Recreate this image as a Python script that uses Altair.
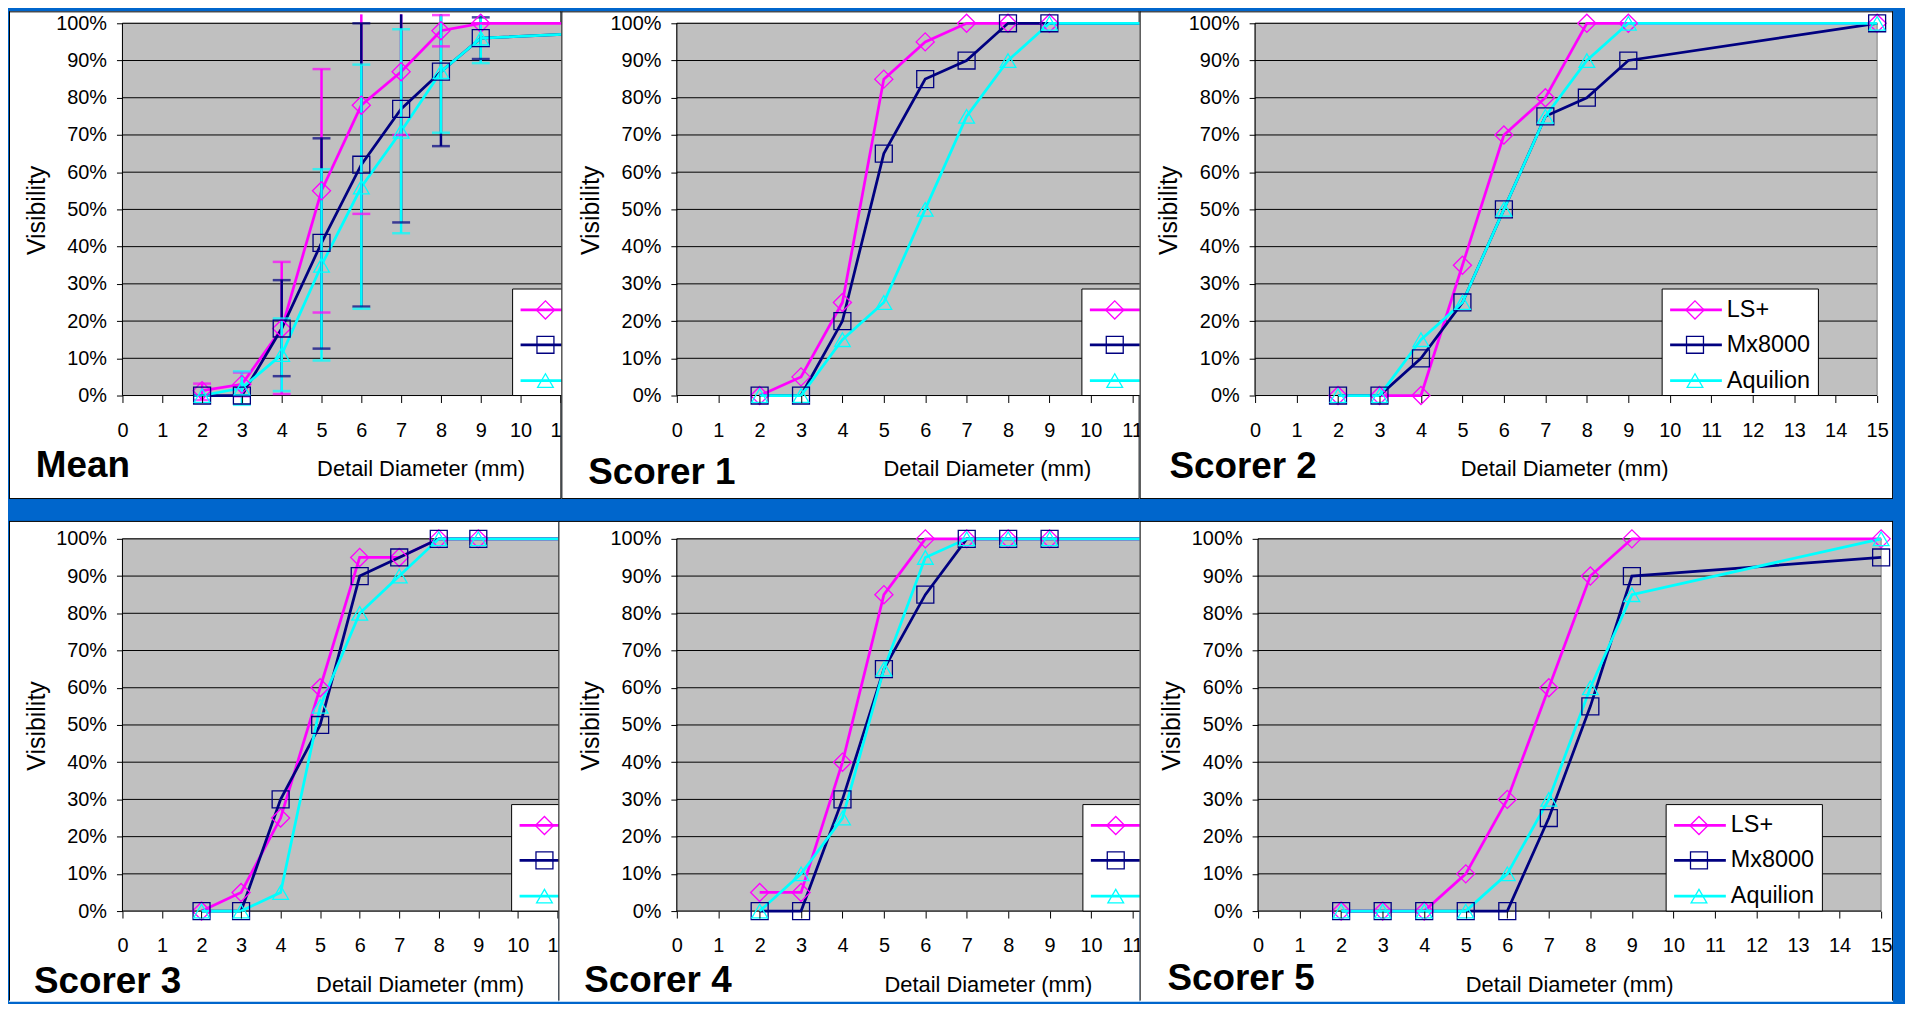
import altair as alt
import pandas as pd

FONT = "Liberation Sans"
SERIES = ["LS+", "Mx8000", "Aquilion"]
COLORS = ["#FF00FF", "#000080", "#00FFFF"]
SHAPES = ["diamond", "square", "triangle-up"]
SIZES = [330, 250, 260]
DIAM = [2, 3, 4, 5, 6, 7, 8, 9, 15]
X_TICKS = list(range(16))
Y_TICKS = [i / 10 for i in range(11)]
PANEL_NAMES = ["Mean", "Scorer 1", "Scorer 2", "Scorer 3", "Scorer 4", "Scorer 5"]
X_TITLE = "Detail Diameter (mm)"
Y_TITLE = "Visibility"

# visibility values (fraction) per series, at DIAM
MEAN_LS = [0.013, 0.03, 0.18, 0.55, 0.78, 0.87, 0.98, 1.00, 1.00]
MEAN_MX = [0.00, 0.00, 0.18, 0.41, 0.62, 0.77, 0.87, 0.96, 0.99]
MEAN_AQ = [0.00, 0.02, 0.11, 0.35, 0.56, 0.71, 0.87, 0.96, 0.99]

S1_LS = [0.00, 0.05, 0.25, 0.85, 0.95, 1.00, 1.00, 1.00, 1.00]
S1_MX = [0.00, 0.00, 0.20, 0.65, 0.85, 0.90, 1.00, 1.00, 1.00]
S1_AQ = [0.00, 0.00, 0.15, 0.25, 0.50, 0.75, 0.90, 1.00, 1.00]

S2_LS = [0.00, 0.00, 0.00, 0.35, 0.70, 0.80, 1.00, 1.00, 1.00]
S2_MX = [0.00, 0.00, 0.10, 0.25, 0.50, 0.75, 0.80, 0.90, 1.00]
S2_AQ = [0.00, 0.00, 0.15, 0.25, 0.50, 0.75, 0.90, 1.00, 1.00]

S3_LS = [0.00, 0.05, 0.25, 0.60, 0.95, 0.95, 1.00, 1.00, 1.00]
S3_MX = [0.00, 0.00, 0.30, 0.50, 0.90, 0.95, 1.00, 1.00, 1.00]
S3_AQ = [0.00, 0.00, 0.05, 0.55, 0.80, 0.90, 1.00, 1.00, 1.00]

S4_LS = [0.05, 0.05, 0.40, 0.85, 1.00, 1.00, 1.00, 1.00, 1.00]
S4_MX = [0.00, 0.00, 0.30, 0.65, 0.85, 1.00, 1.00, 1.00, 1.00]
S4_AQ = [0.00, 0.10, 0.25, 0.65, 0.95, 1.00, 1.00, 1.00, 1.00]

S5_LS = [0.00, 0.00, 0.00, 0.10, 0.30, 0.60, 0.90, 1.00, 1.00]
S5_MX = [0.00, 0.00, 0.00, 0.00, 0.00, 0.25, 0.55, 0.90, 0.95]
S5_AQ = [0.00, 0.00, 0.00, 0.00, 0.10, 0.30, 0.60, 0.85, 1.00]

# error bars of the Mean panel (at diameters 2..9)
ERR_D = [2, 3, 4, 5, 6, 7, 8, 9]
ERR_LO_LS = [-0.012, -0.002, 0.004, 0.223, 0.488, 0.70, 0.938, 1.00]
ERR_HI_LS = [0.032, 0.062, 0.359, 0.877, 1.07, 1.04, 1.022, 1.00]
ERR_LO_MX = [0.00, 0.00, 0.052, 0.126, 0.239, 0.465, 0.67, 0.904]
ERR_HI_MX = [0.00, 0.00, 0.31, 0.691, 1.00, 1.075, 1.07, 1.016]
ERR_LO_AQ = [0.00, -0.025, 0.012, 0.094, 0.233, 0.436, 0.706, 0.893]
ERR_HI_AQ = [0.00, 0.065, 0.207, 0.608, 0.889, 0.984, 1.034, 1.027]
ERR_TOP = 1.024  # visible top of the picture

H = 374
LEG_Y = [288, 323, 359]


def make_panel(name, vals, xmax, width, rect, lgx, xtx, lbx, lby,
               err=None, legend_text=True, borders=("l", "t", "r", "b")):
    rl, rr, rt, rb = rect
    rows = []
    for s, v in zip(SERIES, vals):
        for d, y in zip(DIAM, v):
            rows.append({"series": s, "d": d, "v": y})
    df = pd.DataFrame(rows)

    xs = alt.Scale(domain=[0, xmax], nice=False, zero=False)
    ys = alt.Scale(domain=[0, 1], nice=False)
    axx = alt.Axis(values=X_TICKS, format="d", title=None, grid=False, domain=False,
                   tickSize=7, tickColor="black", tickWidth=1,
                   labelFontSize=20, labelFont=FONT, labelColor="black",
                   labelPadding=18, labelFlush=False, labelOverlap=False, zindex=1)
    axy = alt.Axis(values=Y_TICKS, format=".0%", title=None, grid=False, domain=False,
                   tickSize=6, tickColor="black", tickWidth=1,
                   labelFontSize=20, labelFont=FONT, labelColor="black",
                   labelPadding=10, labelFlush=False, labelOverlap=False, zindex=1)

    def X(f):
        return alt.X(f, type="quantitative", scale=xs, axis=axx)

    def Y(f):
        return alt.Y(f, type="quantitative", scale=ys, axis=axy)

    color = alt.Color("series:N", scale=alt.Scale(domain=SERIES, range=COLORS), legend=None)
    shape = alt.Shape("series:N", scale=alt.Scale(domain=SERIES, range=SHAPES), legend=None)
    size = alt.Size("series:N", scale=alt.Scale(domain=SERIES, range=SIZES), legend=None)

    one = pd.DataFrame({"a": [0]})
    layers = []
    # white panel
    layers.append(alt.Chart(one).mark_rect(fill="white", strokeWidth=0).encode(
        x=alt.value(rl), x2=alt.value(width + rr), y=alt.value(rt), y2=alt.value(H + rb)))
    # panel borders
    edge = dict(
        l=dict(x=alt.value(rl + 0.5), y=alt.value(rt), y2=alt.value(H + rb - 1)),
        r=dict(x=alt.value(width + rr - 0.5), y=alt.value(rt), y2=alt.value(H + rb - 1)),
        t=dict(x=alt.value(rl), x2=alt.value(width + rr), y=alt.value(rt + 0.5)),
        b=dict(x=alt.value(rl), x2=alt.value(width + rr), y=alt.value(H + rb - 0.5)),
    )
    for side in borders:
        layers.append(alt.Chart(one).mark_rule(color="black", strokeWidth=1).encode(**edge[side]))
    # gray plot area
    plot_df = pd.DataFrame({"x0": [0], "x1": [15], "y0": [0.0], "y1": [1.0]})
    layers.append(alt.Chart(plot_df).mark_rect(fill="#C0C0C0", stroke="#808080", strokeWidth=1).encode(
        x=X("x0"), x2="x1", y=Y("y0"), y2="y1"))
    # grid lines
    grid_df = pd.DataFrame({"g": Y_TICKS[1:], "x0": 0, "x1": 15})
    layers.append(alt.Chart(grid_df).mark_rule(color="black", strokeWidth=1).encode(
        x=X("x0"), x2="x1", y=Y("g")))
    # axis lines
    axl_df = pd.DataFrame({"x0": [0, 0], "x1": [15, 0], "y0": [0.0, 0.0], "y1": [0.0, 1.0]})
    layers.append(alt.Chart(axl_df).mark_rule(color="black", strokeWidth=1).encode(
        x=X("x0"), x2="x1", y=Y("y0"), y2="y1"))
    # lines
    layers.append(alt.Chart(df).mark_line(strokeWidth=2.75).encode(
        x=X("d"), y=Y("v"), color=color))
    # error bars
    if err is not None:
        erows = []
        for s, lo, hi in zip(SERIES, err[0], err[1]):
            for d, a, b in zip(ERR_D, lo, hi):
                erows.append({"series": s, "d": d, "lo": a, "hi": b})
        edf = pd.DataFrame(erows)
        base = alt.Chart(edf).transform_calculate(hv=f"min(datum.hi, {ERR_TOP})")
        layers.append(base.mark_rule(strokeWidth=2.5).encode(
            x=X("d"), y=Y("lo"), y2="hv:Q", color=color))
        layers.append(base.mark_tick(orient="horizontal", size=18, thickness=2.5).encode(
            x=X("d"), y=Y("lo"), color=color))
        layers.append(base.transform_filter(f"datum.hi <= {ERR_TOP}").mark_tick(
            orient="horizontal", size=18, thickness=2.5).encode(
            x=X("d"), y=Y("hi"), color=color))
    # points
    layers.append(alt.Chart(df).mark_point(filled=False, strokeWidth=1.3, opacity=1).encode(
        x=X("d"), y=Y("v"), color=color, shape=shape, size=size))
    # legend
    layers.append(alt.Chart(one).mark_rect(fill="white", stroke="black", strokeWidth=1).encode(
        x=alt.value(lgx), x2=alt.value(lgx + 157), y=alt.value(267), y2=alt.value(374)))
    for i, s in enumerate(SERIES):
        sdf = pd.DataFrame({"series": [s]})
        layers.append(alt.Chart(sdf).mark_rule(strokeWidth=2.75).encode(
            x=alt.value(lgx + 8), x2=alt.value(lgx + 60), y=alt.value(LEG_Y[i]), color=color))
        layers.append(alt.Chart(sdf).mark_point(filled=False, strokeWidth=1.3, opacity=1).encode(
            x=alt.value(lgx + 33), y=alt.value(LEG_Y[i]), color=color, shape=shape, size=size))
        if legend_text:
            layers.append(alt.Chart(sdf).mark_text(align="left", baseline="middle", fontSize=23.5,
                                                  font=FONT, color="black").encode(
                x=alt.value(lgx + 65), y=alt.value(LEG_Y[i]), text="series:N"))
    # titles
    tdf = pd.DataFrame({"t": [name], "xt": [X_TITLE], "yt": [Y_TITLE]})
    layers.append(alt.Chart(tdf).mark_text(align="center", baseline="middle", fontSize=22,
                                          font=FONT, color="black").encode(
        x=alt.value(xtx), y=alt.value(448), text="xt:N"))
    layers.append(alt.Chart(tdf).mark_text(align="center", baseline="middle", fontSize=25,
                                          font=FONT, color="black", angle=270).encode(
        x=alt.value(-86), y=alt.value(188), text="yt:N"))
    layers.append(alt.Chart(tdf).mark_text(align="left", baseline="alphabetic", fontSize=37,
                                          font=FONT, fontWeight="bold", color="black").encode(
        x=alt.value(lbx), y=alt.value(lby), text="t:N"))
    return alt.layer(*layers).properties(width=width, height=H)


mean = make_panel(PANEL_NAMES[0], [MEAN_LS, MEAN_MX, MEAN_AQ], 11.025, 441, (-114, 0, -12, 104),
                  392, 300, -87, 456,
                  err=([ERR_LO_LS, ERR_LO_MX, ERR_LO_AQ], [ERR_HI_LS, ERR_HI_MX, ERR_HI_AQ]),
                  legend_text=False)
s1 = make_panel(PANEL_NAMES[1], [S1_LS, S1_MX, S1_AQ], 11.18, 465, (-116, 0, -12, 104),
                407, 312, -89, 463, legend_text=False)
s2 = make_panel(PANEL_NAMES[2], [S2_LS, S2_MX, S2_AQ], 15, 625, (-116, 16, -12, 104),
                409, 311, -86, 457)
s3 = make_panel(PANEL_NAMES[3], [S3_LS, S3_MX, S3_AQ], 11.0, 437, (-114, 1, -18, 91),
                391, 299, -89, 456, legend_text=False, borders=("l", "t"))
s4 = make_panel(PANEL_NAMES[4], [S4_LS, S4_MX, S4_AQ], 11.15, 464, (-119, 1, -18, 91),
                408, 313, -93, 455, legend_text=False, borders=("l", "t"))
s5 = make_panel(PANEL_NAMES[5], [S5_LS, S5_MX, S5_AQ], 15, 626, (-119, 12, -18, 91),
                410, 313, -91, 453, borders=("l", "t", "r"))

top = alt.hconcat(mean, s1, s2, spacing=116, bounds="flush")
bot = alt.hconcat(s3, s4, s5, spacing=120, bounds="flush")

chart = alt.vconcat(top, bot, spacing=21).properties(
    padding={"left": 0, "top": 0, "right": 11, "bottom": 0}
).configure(background="#0066CC", font=FONT).configure_view(strokeWidth=0)

chart.save("out.html", embed_options={"renderer": "svg", "actions": False})
